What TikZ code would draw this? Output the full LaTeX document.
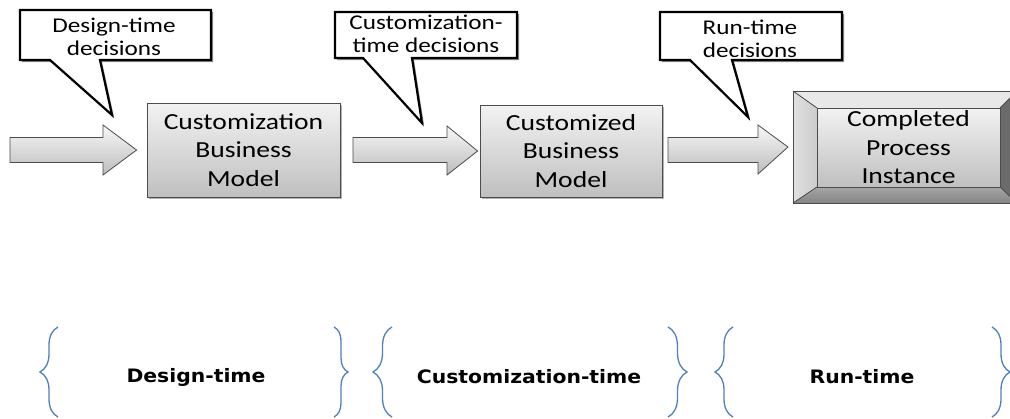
\documentclass[tikz,border=0pt]{standalone}
\usepackage{fontspec}
\newfontfamily\boxfont{Carlito}[FakeStretch=1.2]
\newfontfamily\labfont{DejaVu Sans}[FakeStretch=1.1]
\usetikzlibrary{decorations.pathreplacing,calc}
\definecolor{braceblue}{HTML}{4F7FBF}
\begin{document}
\begin{tikzpicture}[x=1pt,y=1pt,
  procbox/.style={draw=black!70, line width=0.8pt, top color=black!5, bottom color=black!25,
    align=center, inner sep=0pt, font=\boxfont\fontsize{23}{28.5}\selectfont},
  barrow/.style={draw=black!70, line width=0.8pt, top color=black!3, bottom color=black!26},
  callout/.style={draw=black, line width=2.2pt, fill=white, line join=miter},
  calloutshadow/.style={fill=black!45},
  callouttext/.style={align=center, inner sep=0pt, font=\boxfont\fontsize{21}{23}\selectfont},
  phasebrace/.style={draw=braceblue, line width=1.3pt, decorate, decoration={brace, amplitude=#1}},
  phaselabel/.style={font=\labfont\bfseries\fontsize{18.5}{20}\selectfont, inner sep=0pt},
  bevelline/.style={draw=black!70, line width=0.8pt}
]
\useasboundingbox (0,0) rectangle (1010,-418);
\clip (0,0) rectangle (1010,-418);
\fill[white] (0,0) rectangle (1010,-418);

% process boxes
\fill[black!30] (149,-105) rectangle (342,-199);
\node[procbox, minimum width=193, minimum height=94] (b1) at (243.5,-150) {Customization\\Business\\Model};
\fill[black!30] (482,-107) rectangle (664,-199);
\node[procbox, minimum width=182, minimum height=92] (b2) at (571,-151) {Customized\\Business\\Model};

% bevelled box
\coordinate (o1) at (793,-91);
\coordinate (o2) at (1017,-91);
\coordinate (o3) at (1017,-203);
\coordinate (o4) at (793,-203);
\coordinate (i1) at (817,-108);
\coordinate (i2) at (1000,-108);
\coordinate (i3) at (1000,-187);
\coordinate (i4) at (817,-187);
\fill[black!9] (o1) -- (o2) -- (i2) -- (i1) -- cycle;
\fill[left color=black!12, right color=black!20] (o1) -- (i1) -- (i4) -- (o4) -- cycle;
\fill[top color=black!35, bottom color=black!48] (i4) -- (i3) -- (o3) -- (o4) -- cycle;
\fill[black!58] (i2) -- (o2) -- (o3) -- (i3) -- cycle;
\draw[bevelline] (o1) rectangle (o3);
\draw[bevelline] (o1) -- (i1) (o2) -- (i2) (o3) -- (i3) (o4) -- (i4);
\node[procbox, minimum width=183, minimum height=79] (b3) at (908.5,-147.5) {Completed\\Process\\Instance};

% block arrows
\coordinate (t1) at ($(b1.west)+(-10,0)$);
\coordinate (t2) at ($(b2.west)+(-2,0)$);
\coordinate (t3) at ($(o1)!0.5!(o4)+(-5,0)$);
\draw[barrow] (10,-137.5) -- (103,-137.5) -- (103,-125) -- (t1) -- (103,-175) -- (103,-162.5) -- (10,-162.5) -- cycle;
\draw[barrow] (353,-137.5) -- (447,-137.5) -- (447,-126) -- (t2) -- (447,-175) -- (447,-162.5) -- (353,-162.5) -- cycle;
\draw[barrow] (668,-137.5) -- (758,-137.5) -- (758,-125) -- (t3) -- (758,-174) -- (758,-162.5) -- (668,-162.5) -- cycle;

% callouts
\fill[calloutshadow] (22,-12) -- (213,-12) -- (213,-62) -- (102,-62) -- (114,-117) -- (52,-62) -- (22,-62) -- cycle;
\draw[callout] (20,-10) -- (211,-10) -- (211,-60) -- (100,-60) -- (112,-115) -- (50,-60) -- (20,-60) -- cycle;
\node[callouttext] (c1) at (114,-37) {Design-time\\decisions};

\fill[calloutshadow] (337,-14) -- (519,-14) -- (519,-60) -- (414,-60) -- (424,-125) -- (365,-60) -- (337,-60) -- cycle;
\draw[callout] (335,-12) -- (517,-12) -- (517,-58) -- (412,-58) -- (422,-123) -- (363,-58) -- (335,-58) -- cycle;
\node[callouttext] (c2) at (426,-34) {Customization-\\time decisions};

\fill[calloutshadow] (662,-14) -- (844,-14) -- (844,-62) -- (734,-62) -- (750,-119) -- (692,-62) -- (662,-62) -- cycle;
\draw[callout] (660,-12) -- (842,-12) -- (842,-60) -- (732,-60) -- (748,-117) -- (690,-60) -- (660,-60) -- cycle;
\node[callouttext] (c3) at (750,-38.5) {Run-time\\decisions};

% phase braces
\draw[phasebrace=18] (58,-417) -- (58,-327);
\draw[phasebrace=14] (334,-327) -- (334,-417);
\draw[phasebrace=19] (392,-417) -- (392,-327);
\draw[phasebrace=19] (668,-327) -- (668,-417);
\draw[phasebrace=18] (733,-417) -- (733,-327);
\draw[phasebrace=18] (992,-327) -- (992,-417);

\node[phaselabel] (p1) at (196,-377) {Design-time};
\node[phaselabel] (p2) at (529,-377) {Customization-time};
\node[phaselabel] (p3) at (862,-377) {Run-time};
\end{tikzpicture}
\end{document}
